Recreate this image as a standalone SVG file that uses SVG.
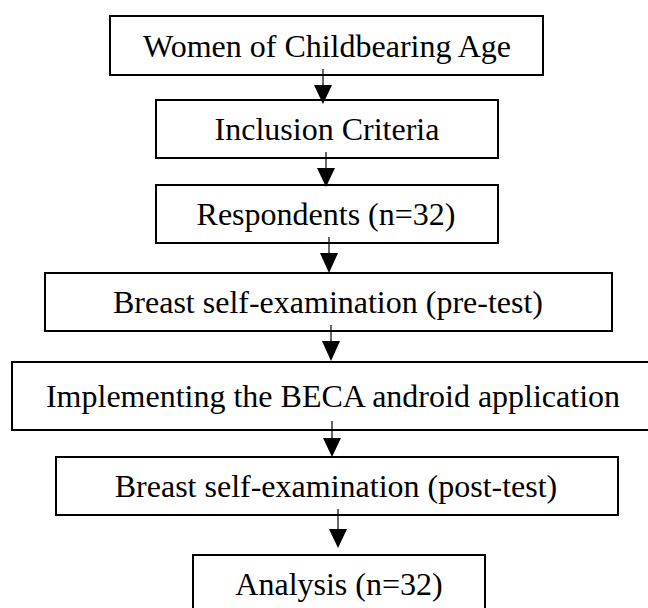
<svg xmlns="http://www.w3.org/2000/svg" width="648" height="608" viewBox="0 0 648 608">
<defs>
<style>
.box{fill:#fff;stroke:#000;stroke-width:2}
.lbl{font-family:"Liberation Serif","Times New Roman",serif;font-size:32px;fill:#000;text-anchor:middle}
.ln{stroke:#000;stroke-width:1.2;fill:none}
.hd{fill:#000;stroke:none}
</style>
</defs>
<rect width="648" height="608" fill="#fff"/>
<g id="n1"><rect class="box" x="110" y="16" width="433" height="59"/><text class="lbl" x="327" y="57">Women of Childbearing Age</text></g>
<g id="n2"><rect class="box" x="156" y="100" width="342" height="58"/><text class="lbl" x="327" y="140">Inclusion Criteria</text></g>
<g id="n3"><rect class="box" x="156" y="185" width="342" height="58"/><text class="lbl" x="326" y="225">Respondents (n=32)</text></g>
<g id="n4"><rect class="box" x="45" y="273" width="567" height="58"/><text class="lbl" x="328" y="313">Breast self-examination (pre-test)</text></g>
<g id="n5"><rect class="box" x="12" y="362" width="642" height="68"/><text class="lbl" x="333" y="407">Implementing the BECA android application</text></g>
<g id="n6"><rect class="box" x="56" y="457" width="562" height="58"/><text class="lbl" x="336" y="497">Breast self-examination (post-test)</text></g>
<g id="n7"><rect class="box" x="193" y="555" width="292" height="60"/><text class="lbl" x="339" y="595">Analysis (n=32)</text></g>
<g id="connectors">
<line class="ln" x1="323" y1="69" x2="323" y2="86"/><polygon class="hd" points="314,85 332,85 323,104"/>
<line class="ln" x1="326" y1="152" x2="326" y2="169"/><polygon class="hd" points="317,168 335,168 326,187"/>
<line class="ln" x1="329" y1="237" x2="329" y2="254"/><polygon class="hd" points="320,253 338,253 329,273"/>
<line class="ln" x1="331" y1="325" x2="331" y2="342"/><polygon class="hd" points="322,341 340,341 331,361"/>
<line class="ln" x1="332" y1="421" x2="332" y2="439"/><polygon class="hd" points="323,438 341,438 332,457"/>
<line class="ln" x1="338" y1="509" x2="338" y2="530"/><polygon class="hd" points="329,529 347,529 338,548"/>
</g>
</svg>
